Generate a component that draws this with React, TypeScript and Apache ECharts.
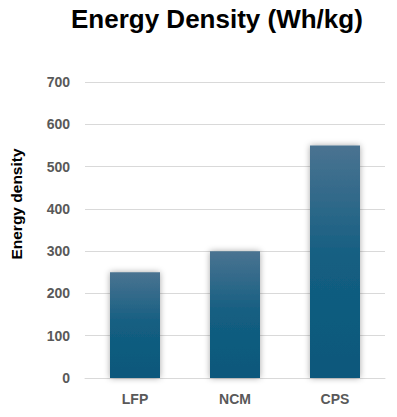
import React, { useEffect, useRef } from "react";
import * as echarts from "echarts";

const categories = ["LFP", "NCM", "CPS"];
const values = [250, 300, 550];
const yTicks = [0, 100, 200, 300, 400, 500, 600, 700];
const titleText = "Energy Density (Wh/kg)";
const yAxisTitle = "Energy density";

export default function App() {
  const ref = useRef<HTMLDivElement>(null);
  useEffect(() => {
    if (!ref.current) return;
    const chart = echarts.init(ref.current, null, { renderer: "svg" });
    const font = "'Liberation Sans', Arial, sans-serif";
    chart.setOption({
      animation: false,
      backgroundColor: "#ffffff",
      title: {
        text: titleText,
        left: 66,
        top: 1,
        textStyle: { fontFamily: font, fontWeight: "bold", fontSize: 26, color: "#000000" },
      },
      graphic: [
        {
          type: "text",
          x: 16,
          y: 204,
          rotation: Math.PI / 2,
          style: {
            text: yAxisTitle,
            fontFamily: font,
            fontWeight: "bold",
            fontSize: 15.5,
            fill: "#000000",
            textAlign: "center",
            textVerticalAlign: "middle",
          },
        },
      ],
      grid: { left: 85, right: 12, top: 82, bottom: 39, containLabel: false },
      xAxis: {
        type: "category",
        data: categories,
        axisLine: { show: true, lineStyle: { color: "#d9d9d9", width: 1 } },
        axisTick: { show: false },
        axisLabel: { fontFamily: font, fontWeight: "bold", fontSize: 14, color: "#595959", margin: 14 },
      },
      yAxis: {
        type: "value",
        min: yTicks[0],
        max: yTicks[yTicks.length - 1],
        interval: 100,
        axisLine: { show: false },
        axisTick: { show: false },
        splitLine: { lineStyle: { color: "#d9d9d9", width: 1 } },
        axisLabel: { fontFamily: font, fontWeight: "bold", fontSize: 14, color: "#595959", margin: 15 },
      },
      series: [
        {
          type: "bar",
          data: values,
          barWidth: 50,
          itemStyle: {
            color: new echarts.graphic.LinearGradient(0, 0, 0, 1, [
              { offset: 0, color: "#4a7391" },
              { offset: 0.5, color: "#135e81" },
              { offset: 1, color: "#0b587b" },
            ]),
            shadowBlur: 6,
            shadowColor: "rgba(0,0,0,0.35)",
            shadowOffsetX: 0,
            shadowOffsetY: 0,
          },
        },
      ],
    });
    return () => chart.dispose();
  }, []);
  return (
    <div
      ref={ref}
      style={{ position: "fixed", left: 0, top: 0, width: 397, height: 417 }}
    />
  );
}
